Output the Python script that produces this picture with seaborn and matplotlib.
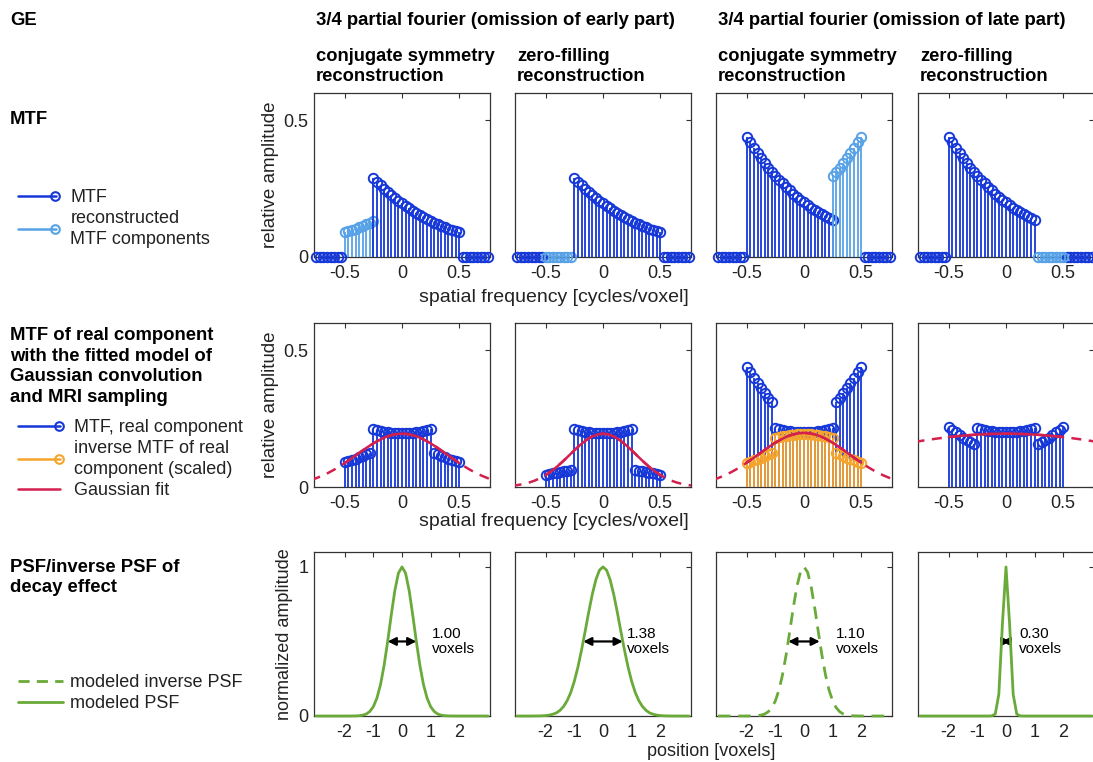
import numpy as np
import matplotlib
matplotlib.use("Agg")
import matplotlib.pyplot as plt
import seaborn as sns
from matplotlib.lines import Line2D
from matplotlib.legend_handler import HandlerBase

# ---------------------------------------------------------------- data
# spatial-frequency sampling grid (cycles/voxel): index j -> (j - 24) / 32
FREQ = np.arange(-24, 25) / 32

# MTF, early part of echo train omitted (measured, x = -0.25 ... 0.5)
MTF_EARLY = [0.290, 0.276, 0.263, 0.250, 0.238, 0.227, 0.216, 0.206, 0.196,
             0.186, 0.178, 0.169, 0.161, 0.153, 0.146, 0.139, 0.132,
             0.126, 0.120, 0.114, 0.109, 0.104, 0.099, 0.094, 0.090]
# reconstructed (conjugate symmetry) components, x = -0.5 ... -0.25
REC_EARLY = [0.090, 0.094, 0.099, 0.104, 0.109, 0.114, 0.120, 0.126, 0.132]
# MTF, late part omitted (measured, x = -0.5 ... 0.25)
MTF_LATE = [0.440, 0.419, 0.399, 0.380, 0.361, 0.344, 0.327, 0.312, 0.297,
            0.283, 0.269, 0.256, 0.244, 0.232, 0.221, 0.210, 0.200,
            0.191, 0.181, 0.173, 0.164, 0.156, 0.149, 0.142, 0.135]
# reconstructed components, x = 0.25 ... 0.5
REC_LATE = [0.297, 0.312, 0.327, 0.344, 0.361, 0.380, 0.399, 0.419, 0.440]
# zero-filled / outside samples
ZEROS_8 = [0.0, 0.0, 0.0, 0.0, 0.0, 0.0, 0.0, 0.0]

# real component of MTF, x = -0.5 ... 0.5
REAL_EARLY_CS = [0.090, 0.094, 0.099, 0.104, 0.109, 0.114, 0.120, 0.126,
                 0.211, 0.208, 0.205, 0.202, 0.200, 0.198, 0.197, 0.196, 0.196,
                 0.196, 0.197, 0.198, 0.200, 0.202, 0.205, 0.208, 0.211,
                 0.126, 0.120, 0.114, 0.109, 0.104, 0.099, 0.094, 0.090]
REAL_EARLY_ZF = [0.045, 0.047, 0.050, 0.052, 0.055, 0.057, 0.060, 0.063,
                 0.211, 0.208, 0.205, 0.202, 0.200, 0.198, 0.197, 0.196, 0.196,
                 0.196, 0.197, 0.198, 0.200, 0.202, 0.205, 0.208, 0.211,
                 0.063, 0.060, 0.057, 0.055, 0.052, 0.050, 0.047, 0.045]
REAL_LATE_CS = [0.440, 0.419, 0.399, 0.380, 0.361, 0.344, 0.327, 0.312,
                0.216, 0.213, 0.209, 0.206, 0.204, 0.203, 0.201, 0.201, 0.200,
                0.201, 0.201, 0.203, 0.204, 0.206, 0.209, 0.213, 0.216,
                0.312, 0.327, 0.344, 0.361, 0.380, 0.399, 0.419, 0.440]
INV_LATE_CS = [0.088, 0.093, 0.097, 0.102, 0.107, 0.113, 0.119, 0.124,
               0.180, 0.182, 0.186, 0.188, 0.190, 0.191, 0.193, 0.193, 0.194,
               0.193, 0.193, 0.191, 0.190, 0.188, 0.186, 0.182, 0.180,
               0.124, 0.119, 0.113, 0.107, 0.102, 0.097, 0.093, 0.088]
REAL_LATE_ZF = [0.220, 0.210, 0.200, 0.190, 0.181, 0.172, 0.164, 0.156,
                0.216, 0.213, 0.209, 0.206, 0.204, 0.203, 0.201, 0.201, 0.200,
                0.201, 0.201, 0.203, 0.204, 0.206, 0.209, 0.213, 0.216,
                0.156, 0.164, 0.172, 0.181, 0.190, 0.200, 0.210, 0.220]

# Gaussian fits, sampled at x = -0.8 ... 0.8 (step 0.05)
GX = np.arange(-16, 17) / 20
GAUSS_1 = [0.0253, 0.0324, 0.0409, 0.0507, 0.0619, 0.0743, 0.0879, 0.1022,
           0.1171, 0.1320, 0.1463, 0.1598, 0.1716, 0.1815, 0.1889, 0.1935,
           0.1950,
           0.1935, 0.1889, 0.1815, 0.1716, 0.1598, 0.1463, 0.1320, 0.1171,
           0.1022, 0.0879, 0.0743, 0.0619, 0.0507, 0.0409, 0.0324, 0.0253]
GAUSS_2 = [0.0043, 0.0069, 0.0106, 0.0158, 0.0229, 0.0323, 0.0441, 0.0585,
           0.0753, 0.0941, 0.1142, 0.1345, 0.1537, 0.1706, 0.1837, 0.1921,
           0.1950,
           0.1921, 0.1837, 0.1706, 0.1537, 0.1345, 0.1142, 0.0941, 0.0753,
           0.0585, 0.0441, 0.0323, 0.0229, 0.0158, 0.0106, 0.0069, 0.0043]
GAUSS_3 = [0.0257, 0.0329, 0.0415, 0.0515, 0.0628, 0.0754, 0.0892, 0.1038,
           0.1189, 0.1340, 0.1486, 0.1623, 0.1742, 0.1843, 0.1918, 0.1964,
           0.1980,
           0.1964, 0.1918, 0.1843, 0.1742, 0.1623, 0.1486, 0.1340, 0.1189,
           0.1038, 0.0892, 0.0754, 0.0628, 0.0515, 0.0415, 0.0329, 0.0257]
GAUSS_4 = [0.1648, 0.1682, 0.1715, 0.1745, 0.1774, 0.1801, 0.1826, 0.1849,
           0.1870, 0.1888, 0.1904, 0.1918, 0.1930, 0.1938, 0.1945, 0.1949,
           0.1950,
           0.1949, 0.1945, 0.1938, 0.1930, 0.1918, 0.1904, 0.1888, 0.1870,
           0.1849, 0.1826, 0.1801, 0.1774, 0.1745, 0.1715, 0.1682, 0.1648]

# modelled PSFs, x = -3 ... 3 voxels (step 0.125)
PX = np.arange(-24, 25) / 8
PSF_1 = [0, 0, 0, 0, 0, 0, 0, 0, 0, 0.00005, 0.0002, 0.0007, 0.0020, 0.0053,
         0.013, 0.030, 0.0625, 0.120, 0.210, 0.339, 0.5, 0.677, 0.841, 0.958,
         1.0,
         0.958, 0.841, 0.677, 0.5, 0.339, 0.210, 0.120, 0.0625, 0.030, 0.013,
         0.0053, 0.0020, 0.0007, 0.0002, 0.00005, 0, 0, 0, 0, 0, 0, 0, 0, 0]
PSF_2 = [0, 0, 0, 0, 0.0001, 0.0003, 0.0006, 0.0014, 0.003, 0.006, 0.012,
         0.021, 0.038, 0.064, 0.103, 0.158, 0.233, 0.328, 0.441, 0.566, 0.695,
         0.815, 0.913, 0.978,
         1.0,
         0.978, 0.913, 0.815, 0.695, 0.566, 0.441, 0.328, 0.233, 0.158, 0.103,
         0.064, 0.038, 0.021, 0.012, 0.006, 0.003, 0.0014, 0.0006, 0.0003,
         0.0001, 0, 0, 0, 0]
PSF_3 = [0, 0, 0, 0, 0, 0, 0, 0, 0.0001, 0.0003, 0.0009, 0.0024, 0.006, 0.013,
         0.028, 0.055, 0.101, 0.173, 0.276, 0.409, 0.564, 0.725, 0.867, 0.965,
         1.0,
         0.965, 0.867, 0.725, 0.564, 0.409, 0.276, 0.173, 0.101, 0.055, 0.028,
         0.013, 0.006, 0.0024, 0.0009, 0.0003, 0.0001, 0, 0, 0, 0, 0, 0, 0, 0]
PSF_4 = [0, 0, 0, 0, 0, 0, 0, 0, 0, 0, 0, 0, 0, 0, 0, 0, 0, 0, 0, 0,
         0.0005, 0.013, 0.146, 0.618,
         1.0,
         0.618, 0.146, 0.013, 0.0005,
         0, 0, 0, 0, 0, 0, 0, 0, 0, 0, 0, 0, 0, 0, 0, 0, 0, 0, 0, 0]
FWHM = [1.00, 1.38, 1.10, 0.30]

# texts
GROUP_TITLES = ["3/4 partial fourier (omission of early part)",
                "3/4 partial fourier (omission of late part)"]
COL_TITLES = ["conjugate symmetry\nreconstruction", "zero-filling\nreconstruction",
              "conjugate symmetry\nreconstruction", "zero-filling\nreconstruction"]
ROW_TITLES = ["MTF",
              "MTF of real component\nwith the fitted model of\nGaussian convolution\nand MRI sampling",
              "PSF/inverse PSF of\ndecay effect"]
XT_MTF, XT_MTF_LAB = [-0.5, 0, 0.5], ["-0.5", "0", "0.5"]
YT_MTF, YT_MTF_LAB = [0, 0.5], ["0", "0.5"]
XT_PSF, XT_PSF_LAB = [-2, -1, 0, 1, 2], ["-2", "-1", "0", "1", "2"]
YT_PSF, YT_PSF_LAB = [0, 1], ["0", "1"]

# ---------------------------------------------------------------- style
BLUE = "#1638d8"
LIGHT = "#57a2e6"
ORANGE = "#f5a42c"
RED = "#d4204e"
GREEN = "#6aaa38"
INK = "#222222"

sns.set_theme(style="white")
plt.rcParams["font.family"] = ["Liberation Sans", "DejaVu Sans"]
plt.rcParams["axes.unicode_minus"] = False
plt.rcParams["axes.edgecolor"] = "#333333"
plt.rcParams["axes.linewidth"] = 0.9

W, H = 1093, 762
fig = plt.figure(figsize=(W / 100, H / 100), dpi=100)
fig.patch.set_facecolor("white")

LEFTS = [314, 515, 716, 918]
TOPS = [93, 323, 552]
AW, AH = 176, 164


def make_ax(col, row):
    return fig.add_axes([LEFTS[col] / W, 1 - (TOPS[row] + AH) / H, AW / W, AH / H])


def style(ax, xt, xl, yt, yl, show_y):
    ax.set_xticks(xt)
    ax.set_xticklabels(xl)
    ax.set_yticks(yt)
    ax.set_yticklabels(yl if show_y else [])
    ax.tick_params(axis="both", direction="in", length=3.5, width=0.8,
                   top=True, right=True, labelsize=13, colors="#333333",
                   labelcolor=INK)
    ax.tick_params(axis="x", pad=6)
    ax.tick_params(axis="y", pad=4)
    for s in ax.spines.values():
        s.set_zorder(1.5)


def stem(ax, x, y, color, z):
    ml, sl, bl = ax.stem(x, y, basefmt=" ")
    sl.set_color(color)
    sl.set_linewidth(1.3)
    sl.set_zorder(z)
    ml.set_color(color)
    ml.set_markerfacecolor("none")
    ml.set_markeredgecolor(color)
    ml.set_markersize(6.8)
    ml.set_markeredgewidth(1.4)
    ml.set_zorder(z + 0.1)
    ml.set_clip_on(False)
    bl.set_visible(False)


XLIM_MTF = (-0.77, 0.77)
YLIM_MTF = (0, 0.6)

# ---------------- row 1: MTF
row1 = [
    [(FREQ[8:17], REC_EARLY, LIGHT), (FREQ[16:41], MTF_EARLY, BLUE)],
    [(FREQ[8:16], ZEROS_8, LIGHT), (FREQ[16:41], MTF_EARLY, BLUE)],
    [(FREQ[8:33], MTF_LATE, BLUE), (FREQ[32:41], REC_LATE, LIGHT)],
    [(FREQ[8:33], MTF_LATE, BLUE), (FREQ[33:41], ZEROS_8, LIGHT)],
]
for c, segs in enumerate(row1):
    ax = make_ax(c, 0)
    stem(ax, FREQ[0:8], ZEROS_8, BLUE, 2)
    stem(ax, FREQ[41:49], ZEROS_8, BLUE, 2)
    for i, (x, y, col) in enumerate(segs):
        stem(ax, x, y, col, 2 + i)
    ax.set_xlim(XLIM_MTF)
    ax.set_ylim(YLIM_MTF)
    style(ax, XT_MTF, XT_MTF_LAB, YT_MTF, YT_MTF_LAB, c == 0)
    if c == 0:
        ax.set_ylabel("relative amplitude", fontsize=13.5, color=INK, labelpad=3)

# ---------------- row 2: real component + Gaussian fit
row2_real = [REAL_EARLY_CS, REAL_EARLY_ZF, REAL_LATE_CS, REAL_LATE_ZF]
row2_gauss = [GAUSS_1, GAUSS_2, GAUSS_3, GAUSS_4]
inner = np.abs(GX) <= 0.5 + 1e-9
for c in range(4):
    ax = make_ax(c, 1)
    stem(ax, FREQ[8:41], row2_real[c], BLUE, 2)
    if c == 2:
        stem(ax, FREQ[8:41], INV_LATE_CS, ORANGE, 3)
    g = np.asarray(row2_gauss[c])
    sns.lineplot(x=GX, y=g, ax=ax, color=RED, linewidth=1.8, zorder=5)
    ax.lines[-1].set_dashes([4, 3])
    sns.lineplot(x=GX[inner], y=g[inner], ax=ax, color=RED, linewidth=1.8, zorder=5)
    ax.set_xlim(XLIM_MTF)
    ax.set_ylim(YLIM_MTF)
    ax.set_xlabel("")
    ax.set_ylabel("")
    style(ax, XT_MTF, XT_MTF_LAB, YT_MTF, YT_MTF_LAB, c == 0)
    if c == 0:
        ax.set_ylabel("relative amplitude", fontsize=13.5, color=INK, labelpad=3)

# ---------------- row 3: PSF
psfs = [PSF_1, PSF_2, PSF_3, PSF_4]
TEXT_X = [1.04, 0.83, 1.11, 0.45]
for c in range(4):
    ax = make_ax(c, 2)
    sns.lineplot(x=PX, y=psfs[c], ax=ax, color=GREEN, linewidth=2.0, zorder=4)
    ln = ax.lines[-1]
    ln.set_clip_on(False)
    if c == 2:
        ln.set_dashes([4.5, 2.8])
    half = FWHM[c] / 2
    ax.annotate("", xy=(-half, 0.5), xytext=(half, 0.5),
                arrowprops=dict(arrowstyle="<|-|>", color="black", lw=1.6,
                                shrinkA=0, shrinkB=0, mutation_scale=12))
    ax.text(TEXT_X[c], 0.5, f"{FWHM[c]:.2f}\nvoxels", fontsize=11, color="black",
            ha="left", va="center", linespacing=1.15)
    ax.set_xlim(-3.07, 3.07)
    ax.set_ylim(0, 1.1)
    ax.set_xlabel("")
    ax.set_ylabel("")
    style(ax, XT_PSF, XT_PSF_LAB, YT_PSF, YT_PSF_LAB, c == 0)
    if c == 0:
        ax.set_ylabel("normalized amplitude", fontsize=13, color=INK, labelpad=4)

# ---------------- figure texts
def ftext(x, y, s, **kw):
    kw.setdefault("fontsize", 13)
    kw.setdefault("color", "black")
    return fig.text(x / W, 1 - y / H, s, **kw)

ftext(10, 12, "GE", fontweight="bold", va="top", fontsize=13.3)
ftext(316, 12, GROUP_TITLES[0], fontweight="bold", va="top", fontsize=13.3)
ftext(718, 12, GROUP_TITLES[1], fontweight="bold", va="top", fontsize=13.3)
for c, t in enumerate(COL_TITLES):
    ftext(LEFTS[c] + 2, 48, t, fontweight="bold", va="top", linespacing=1.25,
          fontsize=13.2)
ftext(10, 111, ROW_TITLES[0], fontweight="bold", va="top", fontsize=13.3)
ftext(10, 327, ROW_TITLES[1], fontweight="bold", va="top", linespacing=1.28,
      fontsize=13.3)
ftext(10, 559, ROW_TITLES[2], fontweight="bold", va="top", linespacing=1.25,
      fontsize=13.3)

ftext(554, 298, "spatial frequency [cycles/voxel]", ha="center", va="center",
      color=INK, fontsize=14)
ftext(554, 522, "spatial frequency [cycles/voxel]", ha="center", va="center",
      color=INK, fontsize=14)
ftext(711, 751, "position [voxels]", ha="center", va="center", color=INK)

# ---------------- legends
class EndMarkerHandler(HandlerBase):
    def create_artists(self, legend, orig, xd, yd, width, height, fontsize, trans):
        y = height / 2 - yd
        x0, x1 = -xd, width - xd
        ln = Line2D([x0, x1], [y, y])
        ln.update_from(orig)
        ln.set_marker("None")
        arts = [ln]
        if orig.get_marker() not in ("None", None, "", " "):
            mk = Line2D([x1 - 1], [y])
            mk.update_from(orig)
            mk.set_linestyle("None")
            arts.append(mk)
        for a in arts:
            a.set_transform(trans)
        return arts


def stem_handle(color):
    return Line2D([], [], color=color, lw=1.8, marker="o", markersize=6.2,
                  markerfacecolor="none", markeredgewidth=1.5)


def legend(handles, labels, x, y, hl, pad):
    lg = fig.legend(handles, labels, loc="upper left",
                    bbox_to_anchor=(x / W, 1 - y / H), frameon=False, fontsize=13,
                    handlelength=hl, handletextpad=pad, labelspacing=0.22,
                    borderpad=0, borderaxespad=0,
                    handler_map={Line2D: EndMarkerHandler()})
    for t in lg.get_texts():
        t.set_linespacing(1.3)
        t.set_color(INK)
    return lg

legend([stem_handle(BLUE), stem_handle(LIGHT)],
       ["MTF", "reconstructed\nMTF components"], 18, 189, 2.1, 0.8)
legend([stem_handle(BLUE), stem_handle(ORANGE),
        Line2D([], [], color=RED, lw=1.8)],
       ["MTF, real component", "inverse MTF of real\ncomponent (scaled)", "Gaussian fit"],
       18, 419, 2.35, 0.75)
legend([Line2D([], [], color=GREEN, lw=2.0, dashes=[4, 2.6]),
        Line2D([], [], color=GREEN, lw=2.0)],
       ["modeled inverse PSF", "modeled PSF"], 18, 674, 2.5, 0.4)

fig.savefig("out.png", dpi=100, facecolor="white")
